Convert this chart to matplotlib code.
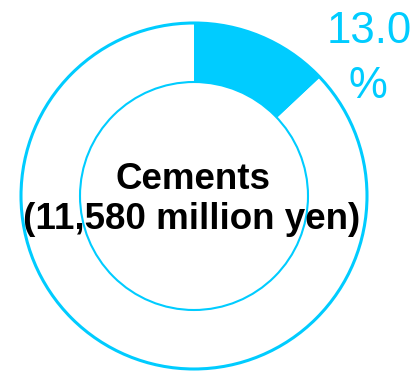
import matplotlib.pyplot as plt
from matplotlib.patches import Circle

plt.rcParams['font.family'] = ['Liberation Sans', 'DejaVu Sans']

segment = 'Cements'
amount = '11,580 million yen'
share = [13.0, 87.0]

cyan = '#00CCFF'

fig = plt.figure(figsize=(4.12, 3.71), dpi=100)
ax = fig.add_axes([0, 0, 1, 1])

cx, cy = 194, 371 - 196
r_out, r_in = 173, 114

ax.pie(share, colors=[cyan, 'white'], startangle=90, counterclock=False,
       radius=r_out, center=(cx, cy),
       wedgeprops=dict(width=r_out - r_in, linewidth=0))

ax.add_patch(Circle((cx, cy), r_out, fill=False, ec=cyan, lw=2.2))
ax.add_patch(Circle((cx, cy), r_in, fill=False, ec=cyan, lw=1.5))

ax.text(cx - 1, 371 - 189, segment, ha='center', va='baseline',
        fontsize=26.5, fontweight='bold', color='black')
ax.text(cx - 2, 371 - 229, '(%s)' % amount, ha='center', va='baseline',
        fontsize=26.5, fontweight='bold', color='black')

ax.text(369, 371 - 43, '%.1f' % share[0], ha='center', va='baseline',
        fontsize=31.5, color=cyan)
ax.text(368, 371 - 98, '%', ha='center', va='baseline',
        fontsize=31.5, color=cyan)

ax.set_xlim(0, 412)
ax.set_ylim(0, 371)
ax.set_aspect('equal')
ax.axis('off')

fig.savefig('out.png', dpi=100)
